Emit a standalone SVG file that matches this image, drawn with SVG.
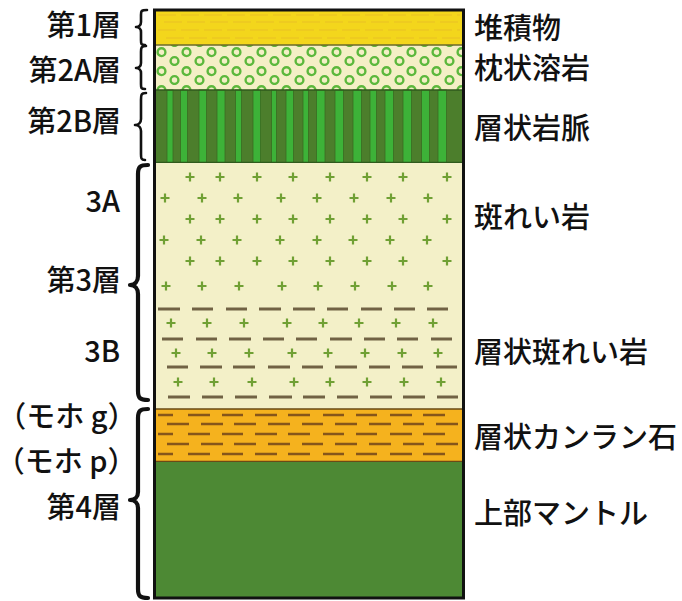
<svg xmlns="http://www.w3.org/2000/svg" width="682" height="601" viewBox="0 0 682 601">
  <style>
    .lbl { font-family: "Noto Sans CJK JP", "Noto Sans", sans-serif; font-size: 29px; font-weight: 500; fill: #111; }
    .lft { text-anchor: end; }
    .paren { font-feature-settings: "halt"; }
    .brace { fill: none; stroke: #111; stroke-linecap: round; stroke-linejoin: round; }
    .thin { stroke-width: 2.6; }
    .bold { stroke-width: 4.2; }
    .sep { stroke-width: 1.6; fill: none; }
    .gdash { fill: none; stroke: #716244; stroke-width: 3; }
    .odash { fill: none; stroke: #86561A; stroke-width: 2.5; }
    .ydash { fill: none; stroke: #E4B52C; stroke-width: 1.2; stroke-dasharray: 18 5; opacity: 0.6; }
  </style>
  <defs>
    <path id="plus" d="M-4.5,0H4.5M0,-4.5V4.5" stroke="#70A034" stroke-width="2.2" fill="none"/>
    <pattern id="pillows" patternUnits="userSpaceOnUse" x="156" y="47" width="25" height="19">
      <circle cx="5.5" cy="5.2" r="3.9" fill="none" stroke="#5CB83C" stroke-width="2.4"/>
      <circle cx="18.5" cy="14" r="3.9" fill="none" stroke="#5CB83C" stroke-width="2.4"/>
    </pattern>
  </defs>

  <rect width="682" height="601" fill="#ffffff"/>

  <!-- Layer 1: sediments -->
  <g id="layer-sediment">
    <rect x="154.5" y="10" width="309" height="35" fill="#F3D61C"/>
    <path class="ydash" d="M158,15H460M164,22H460M158,30H460M166,38H460"/>
  </g>

  <!-- Layer 2A: pillow lava -->
  <g id="layer-pillow">
    <rect x="154.5" y="45" width="309" height="45" fill="#F4EFC6"/>
    <rect x="154.5" y="45" width="309" height="45" fill="url(#pillows)"/>
    <path class="sep" stroke="#6B6A2A" d="M154,45H464"/>
  </g>

  <!-- Layer 2B: sheeted dikes -->
  <g id="layer-dikes">
    <rect x="154.5" y="90" width="309" height="73" fill="#4C7E2C"/>
    <g fill="#3DB238" stroke="#3A6B22" stroke-width="0.8">
      <rect x="167" y="90" width="6" height="73"/>
      <rect x="180.5" y="90" width="7" height="73"/>
      <rect x="199" y="90" width="7.5" height="73"/>
      <rect x="217" y="90" width="8" height="73"/>
      <rect x="235.5" y="90" width="6" height="73"/>
      <rect x="253" y="90" width="7.5" height="73"/>
      <rect x="271.5" y="90" width="5" height="73"/>
      <rect x="286" y="90" width="7.5" height="73"/>
      <rect x="303" y="90" width="5.5" height="73"/>
      <rect x="316.5" y="90" width="8.5" height="73"/>
      <rect x="335" y="90" width="8.5" height="73"/>
      <rect x="353" y="90" width="8.5" height="73"/>
      <rect x="370" y="90" width="6.5" height="73"/>
      <rect x="385" y="90" width="8.5" height="73"/>
      <rect x="403" y="90" width="8.5" height="73"/>
      <rect x="421.5" y="90" width="8" height="73"/>
      <rect x="438" y="90" width="8.5" height="73"/>
    </g>
    <path class="sep" stroke="#2F5A1C" d="M154,90H464M154,162.5H464"/>
  </g>

  <!-- Layer 3: gabbro (3A) and layered gabbro (3B) -->
  <g id="layer-gabbro">
    <rect x="154.5" y="163" width="309" height="246" fill="#F3F0C8"/>
    <g id="gabbro-3A">
      <use href="#plus" x="190" y="177"/><use href="#plus" x="220" y="177"/><use href="#plus" x="257" y="177"/><use href="#plus" x="293" y="177"/><use href="#plus" x="330" y="177"/><use href="#plus" x="367" y="177"/><use href="#plus" x="403" y="177"/><use href="#plus" x="447" y="177"/>
      <use href="#plus" x="165" y="198"/><use href="#plus" x="202" y="198"/><use href="#plus" x="238" y="198"/><use href="#plus" x="281" y="198"/><use href="#plus" x="317" y="198"/><use href="#plus" x="354" y="198"/><use href="#plus" x="391" y="198"/><use href="#plus" x="428" y="198"/>
      <use href="#plus" x="190" y="219"/><use href="#plus" x="220" y="219"/><use href="#plus" x="257" y="219"/><use href="#plus" x="293" y="219"/><use href="#plus" x="330" y="219"/><use href="#plus" x="367" y="219"/><use href="#plus" x="403" y="219"/><use href="#plus" x="447" y="219"/>
      <use href="#plus" x="164" y="240"/><use href="#plus" x="201" y="240"/><use href="#plus" x="237" y="240"/><use href="#plus" x="280" y="240"/><use href="#plus" x="317" y="240"/><use href="#plus" x="353" y="240"/><use href="#plus" x="390" y="240"/><use href="#plus" x="427" y="240"/>
      <use href="#plus" x="190" y="261"/><use href="#plus" x="220" y="261"/><use href="#plus" x="257" y="261"/><use href="#plus" x="293" y="261"/><use href="#plus" x="330" y="261"/><use href="#plus" x="367" y="261"/><use href="#plus" x="403" y="261"/><use href="#plus" x="447" y="261"/>
      <use href="#plus" x="166" y="286"/><use href="#plus" x="202" y="286"/><use href="#plus" x="239" y="286"/><use href="#plus" x="282" y="286"/><use href="#plus" x="318" y="286"/><use href="#plus" x="355" y="286"/><use href="#plus" x="392" y="286"/><use href="#plus" x="428" y="286"/>
    </g>
    <g id="gabbro-3B">
      <path class="gdash" d="M158,309H180M192,309H213M226,309H247M259,309H281M293,309H315M327,309H348M361,309H382M394,309H415M427,309H448"/>
      <path class="gdash" d="M162,339H183M196,339H217M229,339H251M263,339H284M296,339H317M330,339H352M364,339H385M397,339H418M431,339H452"/>
      <path class="gdash" d="M167,367H188M200,367H222M233,367H255M268,367H290M302,367H323M335,367H357M369,367H390M402,367H423M436,367H457"/>
      <path class="gdash" d="M168,397H190M202,397H223M235,397H257M269,397H292M303,397H325M337,397H358M370,397H392M403,397H425M437,397H458"/>
      <use href="#plus" x="171" y="323"/><use href="#plus" x="207" y="323"/><use href="#plus" x="244" y="323"/><use href="#plus" x="287" y="323"/><use href="#plus" x="323" y="323"/><use href="#plus" x="359" y="323"/><use href="#plus" x="396" y="323"/><use href="#plus" x="433" y="323"/>
      <use href="#plus" x="176" y="353"/><use href="#plus" x="212" y="353"/><use href="#plus" x="249" y="353"/><use href="#plus" x="292" y="353"/><use href="#plus" x="328" y="353"/><use href="#plus" x="365" y="353"/><use href="#plus" x="402" y="353"/><use href="#plus" x="438" y="353"/>
      <use href="#plus" x="178" y="382"/><use href="#plus" x="214" y="382"/><use href="#plus" x="252" y="382"/><use href="#plus" x="294" y="382"/><use href="#plus" x="330" y="382"/><use href="#plus" x="367" y="382"/><use href="#plus" x="404" y="382"/><use href="#plus" x="441" y="382"/>
    </g>
  </g>

  <!-- Layered peridotite -->
  <g id="layer-peridotite">
    <rect x="154.5" y="409" width="309" height="53" fill="#F5B21E"/>
    <path class="odash" d="M158,415H173M188,415H210M222,415H243M255,415H277M288,415H310M323,415H344M356,415H377M390,415H412M423,415H445"/>
    <path class="odash" d="M167,424H189M201,424H223M234,424H256M268,424H290M302,424H323M335,424H357M369,424H391M403,424H424M436,424H458"/>
    <path class="odash" d="M158,434H173M188,434H210M222,434H243M255,434H277M288,434H310M323,434H344M356,434H377M390,434H412M423,434H445"/>
    <path class="odash" d="M167,444H189M201,444H223M234,444H256M268,444H290M302,444H323M335,444H357M369,444H391M403,444H424M436,444H458"/>
    <path class="odash" d="M158,454H173M188,454H210M222,454H243M255,454H277M288,454H310M323,454H344M356,454H377M390,454H412M423,454H445"/>
    <path class="sep" stroke="#6A4A16" d="M154,409H464M154,461.5H464"/>
  </g>

  <!-- Layer 4: upper mantle -->
  <g id="layer-mantle">
    <rect x="154.5" y="462" width="309" height="136" fill="#4D8934"/>
  </g>

  <!-- column outline -->
  <rect id="column-frame" x="154.5" y="10" width="309" height="588" fill="none" stroke="#111" stroke-width="3"/>

  <!-- braces linking the left labels to the column -->
  <g id="connectors">
    <path class="brace thin" d="M147,10 C141,10 141,11 141,15 L141,22 C141,25 139,27 136,27 C139,27 141,29 141,32 L141,40 C141,44 141,45 145,45"/>
    <path class="brace thin" d="M146,46 C141,46 141,48 141,52 L141,63 C141,66 139,68 136,68 C139,68 141,70 141,73 L141,84 C141,88 141,89 145,89"/>
    <path class="brace thin" d="M146,93 C141,93 141,95 141,100 L141,119 C141,122 139,125 135,125 C139,125 141,128 141,131 L141,154 C141,158 141,160 145,160"/>
    <path class="brace bold" d="M148,165 C140,165 138,167 138,174 L138,276 C138,281 135,285 130,285 C135,285 138,289 138,294 L138,391 C138,398 140,400 148,400"/>
    <path class="brace bold" d="M148,409 C140,409 138,411 138,418 L138,492 C138,497 135,500 130,500 C135,500 138,503 138,508 L138,589 C138,596 140,598 148,598"/>
  </g>

  <!-- left labels -->
  <g id="labels-left" class="lbl lft">
    <text x="121" y="36">第1層</text>
    <text x="121" y="81">第2A層</text>
    <text x="121" y="132">第2B層</text>
    <text x="120" y="212">3A</text>
    <text x="121" y="291">第3層</text>
    <text x="120" y="362">3B</text>
    <text class="paren" x="122" y="427">（モホ g）</text>
    <text class="paren" x="122" y="472">（モホ p）</text>
    <text x="121" y="518">第4層</text>
  </g>

  <!-- right labels -->
  <g id="labels-right" class="lbl">
    <text x="474" y="39">堆積物</text>
    <text x="474" y="79">枕状溶岩</text>
    <text x="474" y="139">層状岩脈</text>
    <text x="474" y="228">斑れい岩</text>
    <text x="474" y="363">層状斑れい岩</text>
    <text x="474" y="448">層状カンラン石</text>
    <text x="474" y="524">上部マントル</text>
  </g>
</svg>
